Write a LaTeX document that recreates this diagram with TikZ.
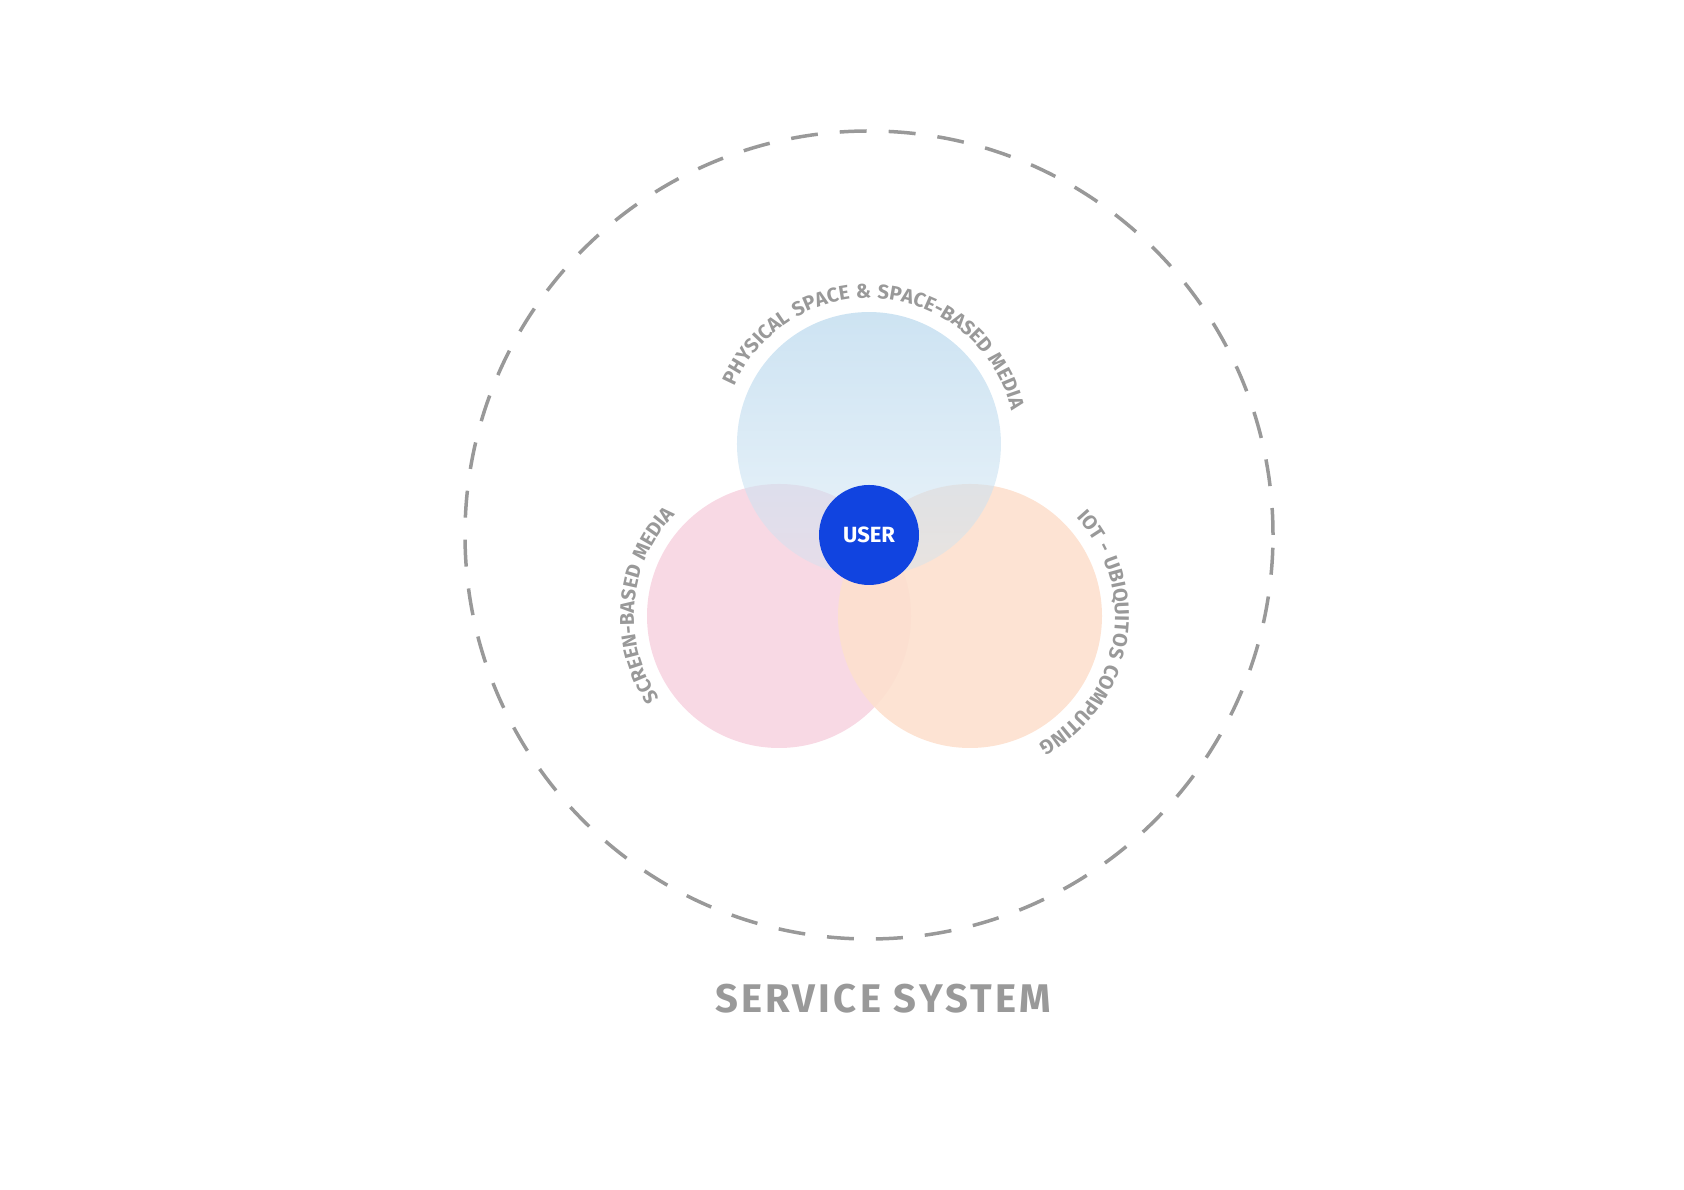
\documentclass[tikz,border=0pt]{standalone}
\usepackage{fontspec}
\setmainfont{Fira Sans}
\usetikzlibrary{decorations.text,fadings}
\definecolor{skyblue}{HTML}{CDE3F2}
\definecolor{rosepink}{HTML}{F8D9E4}
\definecolor{peach}{HTML}{FDE0CE}
\definecolor{userblue}{HTML}{1144E0}
\definecolor{labelgray}{HTML}{999999}
\tikzfading[name=bluefade, top color=transparent!0, middle color=transparent!0, bottom color=transparent!60]
\tikzset{
  arclabel/.style={decorate, decoration={text along path, text align=center,
    text={|\fontsize{20}{20}\bfseries\addfontfeature{LetterSpace=6}\color{labelgray}|#1}}},
}
\begin{document}
\begin{tikzpicture}[x=1pt,y=1pt]
  \useasboundingbox (0,0) rectangle (1684,1190);

  \coordinate (user) at (869,655);
  \coordinate (screen) at (779,574);
  \coordinate (iot) at (970,574);
  \coordinate (space) at (869,746);

  % service system ring
  \draw[labelgray, line width=3.5pt, dash pattern=on 27pt off 22pt] (user) circle (404);

  % media circles
  \fill[rosepink] (screen) circle (132);
  \fill[peach, opacity=0.9] (iot) circle (132);
  \fill[skyblue, path fading=bluefade] (space) circle (132);

  % curved labels
  \path[arclabel={PHYSICAL SPACE {\&} SPACE-BASED MEDIA}] ([shift={(177:146)}]space) arc (177:-7:146);
  \path[arclabel={SCREEN-BASED MEDIA}] ([shift={(225:145)}]screen) arc (225:125:145);
  \path[arclabel={IOT - UBIQUITOS COMPUTING}] ([shift={(60:145)}]iot) arc (60:-79:145);

  \node[circle, fill=userblue, minimum size=100pt, inner sep=0pt, text=white,
        font=\fontsize{22}{22}\bfseries] (userdot) at (user) {USER};

  \node[text=labelgray, font=\fontsize{40}{40}\bfseries\addfontfeature{LetterSpace=8}] (service) at (883,191) {SERVICE SYSTEM};
\end{tikzpicture}
\end{document}
